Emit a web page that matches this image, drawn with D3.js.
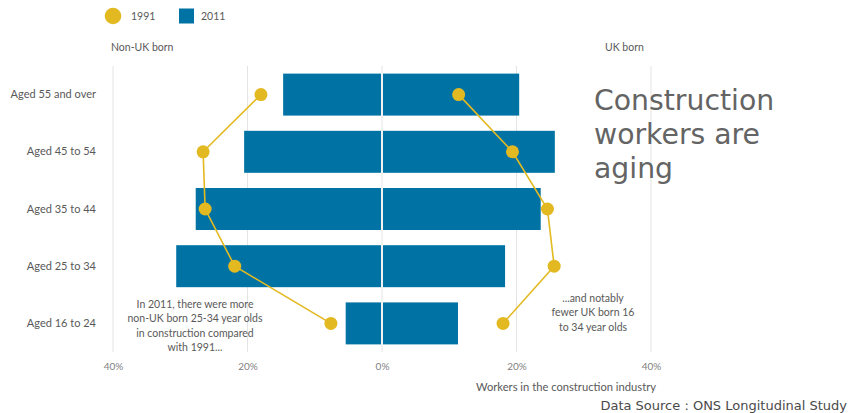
<!DOCTYPE html>
<html>
<head>
<meta charset="utf-8">
<script src="https://cdn.jsdelivr.net/npm/d3@7"></script>
<style>
  html, body { margin: 0; padding: 0; background: #fff; }
  svg { display: block; }
</style>
</head>
<body>
<svg id="chart" width="848" height="413"></svg>
<script>
// Age groups, top to bottom
const categories = ["Aged 55 and over", "Aged 45 to 54", "Aged 35 to 44", "Aged 25 to 34", "Aged 16 to 24"];
// Share of construction workers (%) in each age group
const nonUK2011 = [14.7, 20.5, 27.7, 30.6, 5.4];
const uk2011    = [20.4, 25.7, 23.6, 18.3, 11.3];
const nonUK1991 = [18.0, 26.6, 26.3, 21.9, 7.6];
const uk1991    = [11.4, 19.4, 24.6, 25.6, 18.0];
const tickValues = [-40, -20, 0, 20, 40];
const tickLabels = ["40%", "20%", "0%", "20%", "40%"];
const seriesNames = ["1991", "2011"];

const BLUE = "#0073a4";
const GOLD = "#e3b922";
const LABEL = "#595959";
const FONT = "Lato, 'Open Sans', sans-serif";

const svg = d3.select("#chart");

// Non-UK born values run left of zero (negative), UK born to the right
const x = d3.scaleLinear().domain([-40, 40]).range([113, 651]);
const y = d3.scaleBand().domain(categories).range([66, 352])
  .paddingInner(0.266).paddingOuter(0.133);

// Vertical gridlines
svg.append("g").selectAll("line").data(tickValues).join("line")
  .attr("x1", d => x(d)).attr("x2", d => x(d))
  .attr("y1", 66).attr("y2", 352)
  .attr("stroke", "#e4e4e4").attr("stroke-width", 1);

// Bottom axis labels
const xAxis = d3.axisBottom(x).tickValues(tickValues)
  .tickFormat((d, i) => tickLabels[i]).tickSize(0).tickPadding(0);
const gx = svg.append("g").attr("transform", "translate(0,363)").call(xAxis);
gx.select(".domain").remove();
gx.selectAll("text").attr("font-family", FONT).attr("font-size", 10)
  .attr("fill", "#7f7f7f");

// Row labels
const yAxis = d3.axisLeft(y).tickSize(0).tickPadding(0);
const gy = svg.append("g").attr("transform", "translate(96,0)").call(yAxis);
gy.select(".domain").remove();
gy.selectAll("text").attr("font-family", FONT).attr("font-size", 11)
  .attr("fill", LABEL);

// 2011 bars
const bars = svg.append("g");
bars.selectAll("rect.left").data(categories).join("rect")
  .attr("class", "left")
  .attr("x", (d, i) => x(-nonUK2011[i]))
  .attr("y", d => y(d))
  .attr("width", (d, i) => x(0) - 1 - x(-nonUK2011[i]))
  .attr("height", y.bandwidth())
  .attr("fill", BLUE);
bars.selectAll("rect.right").data(categories).join("rect")
  .attr("class", "right")
  .attr("x", x(0) + 1)
  .attr("y", d => y(d))
  .attr("width", (d, i) => x(uk2011[i]) - x(0) - 1)
  .attr("height", y.bandwidth())
  .attr("fill", BLUE);

// 1991 lines and dots
const cy = d => y(d) + y.bandwidth() / 2;
const line = d3.line().x(d => d[0]).y(d => d[1]);
const leftPts = categories.map((c, i) => [x(-nonUK1991[i]), cy(c)]);
const rightPts = categories.map((c, i) => [x(uk1991[i]), cy(c)]);
[leftPts, rightPts].forEach(pts => {
  svg.append("path").datum(pts).attr("d", line)
    .attr("fill", "none").attr("stroke", GOLD).attr("stroke-width", 1.6);
  svg.append("g").selectAll("circle").data(pts).join("circle")
    .attr("cx", d => d[0]).attr("cy", d => d[1]).attr("r", 6.5)
    .attr("fill", GOLD);
});

// Legend
const legend = svg.append("g").attr("font-family", FONT).attr("font-size", 10.5)
  .attr("fill", LABEL);
legend.append("circle").attr("cx", 113).attr("cy", 16).attr("r", 8.3).attr("fill", GOLD);
legend.append("text").attr("x", 131).attr("y", 16).attr("dy", "0.35em").text(seriesNames[0]);
legend.append("rect").attr("x", 179).attr("y", 8.5).attr("width", 15).attr("height", 15)
  .attr("fill", BLUE);
legend.append("text").attr("x", 201).attr("y", 16).attr("dy", "0.35em").text(seriesNames[1]);

// Side headings
const heads = svg.append("g").attr("font-family", FONT).attr("font-size", 10.5).attr("fill", LABEL);
heads.append("text").attr("x", 111).attr("y", 47).attr("dy", "0.35em").text("Non-UK born");
heads.append("text").attr("x", 605).attr("y", 47).attr("dy", "0.35em").text("UK born");

// Annotations
function block(lines, cx, cy0, gap) {
  const t = svg.append("text").attr("font-family", FONT).attr("font-size", 10.5)
    .attr("fill", LABEL).attr("text-anchor", "middle");
  lines.forEach((s, i) => t.append("tspan").attr("x", cx).attr("y", cy0 + i * gap)
    .attr("dy", "0.35em").text(s));
}
block(["In 2011, there were more", "non-UK born 25-34 year olds",
       "in construction compared", "with 1991..."], 195, 304, 14.6);
block(["...and notably", "fewer UK born 16", "to 34 year olds"], 593, 298, 14.5);

// Title
const title = svg.append("text").attr("font-family", "'DejaVu Sans', Verdana, sans-serif")
  .attr("font-size", 28.3).attr("fill", "#646464");
["Construction", "workers are", "aging"].forEach((s, i) =>
  title.append("tspan").attr("x", 594).attr("y", 110 + i * 34).text(s));

// Axis title and source
svg.append("text").attr("x", 656).attr("y", 387).attr("dy", "0.35em")
  .attr("text-anchor", "end").attr("font-family", FONT).attr("font-size", 11.2)
  .attr("fill", LABEL).text("Workers in the construction industry");
svg.append("text").attr("x", 847).attr("y", 405).attr("dy", "0.35em")
  .attr("text-anchor", "end").attr("font-family", "'DejaVu Sans', Verdana, sans-serif")
  .attr("font-size", 13).attr("fill", "#4a4a4a").text("Data Source : ONS Longitudinal Study");
</script>
</body>
</html>
